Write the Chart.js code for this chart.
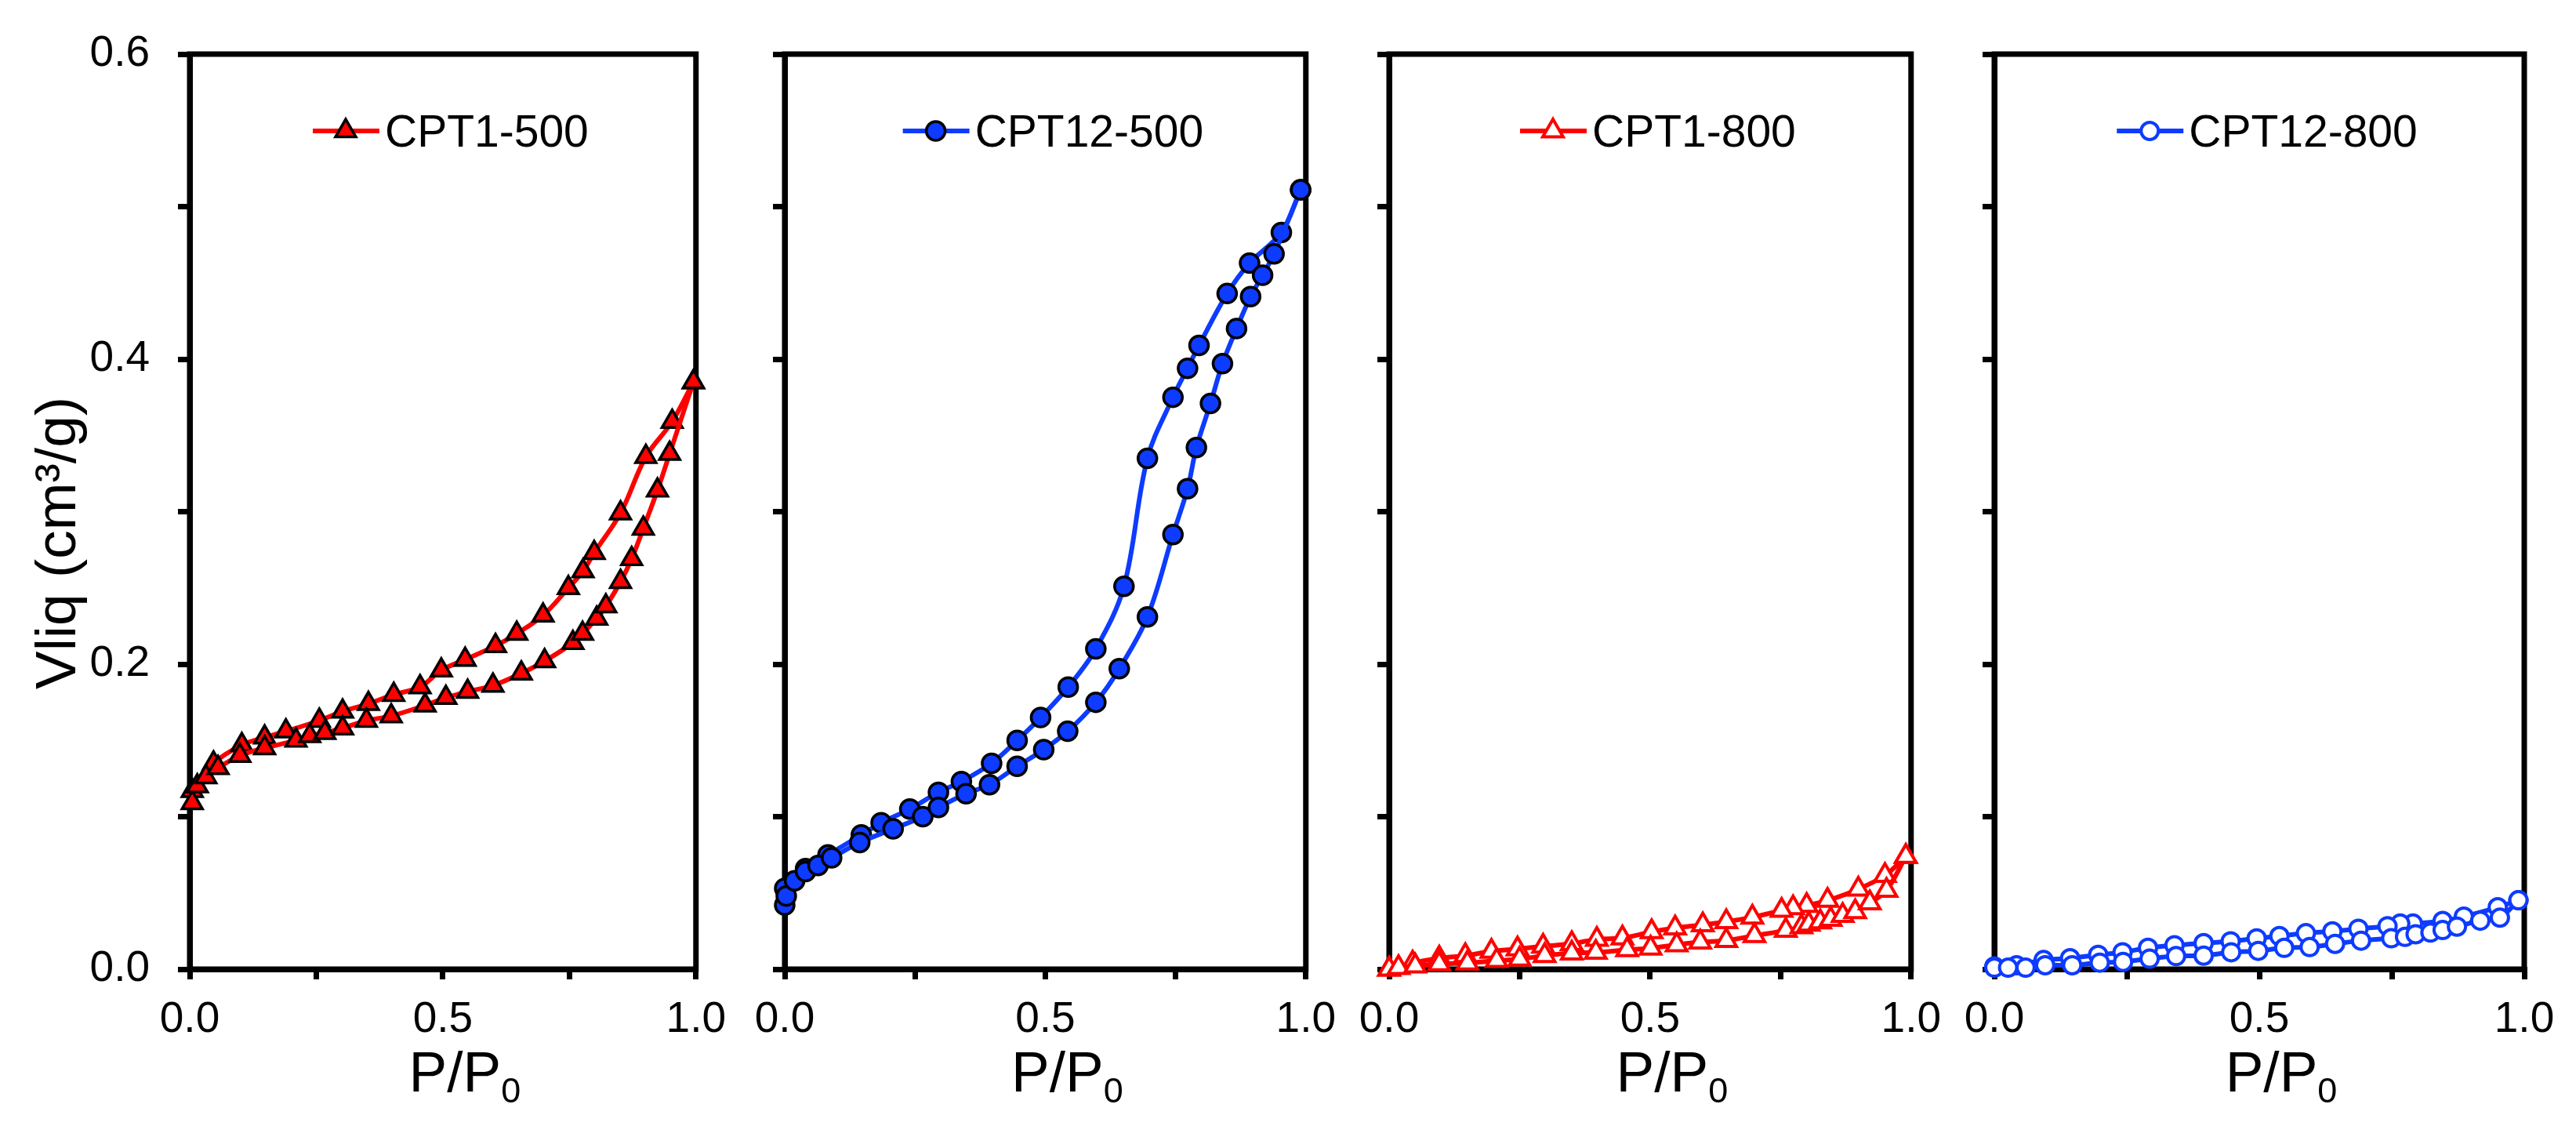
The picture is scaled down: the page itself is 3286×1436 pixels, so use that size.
<!DOCTYPE html>
<html>
<head>
<meta charset="utf-8">
<script src="https://cdn.jsdelivr.net/npm/chart.js@4.4.0/dist/chart.umd.min.js"></script>
<style>
body { margin: 0; background: #fff; width: 3286px; height: 1436px; position: relative; overflow: hidden; }
canvas { position: absolute; top: 0; }
</style>
</head>
<body>
<canvas id="c1" width="945" height="1436" style="left:0px"></canvas>
<canvas id="c2" width="782" height="1436" style="left:941px"></canvas>
<canvas id="c3" width="783" height="1436" style="left:1712px"></canvas>
<canvas id="c4" width="802" height="1436" style="left:2484px"></canvas>
<script>
// CPT1-500
var cpt1_500_adsP = [0.005, 0.015, 0.032, 0.056, 0.099, 0.148, 0.210, 0.237, 0.267, 0.302, 0.349, 0.398, 0.465, 0.506, 0.549, 0.599, 0.655, 0.701, 0.757, 0.776, 0.804, 0.822, 0.851, 0.873, 0.896, 0.924, 0.948, 0.995];
var cpt1_500_adsV = [0.109, 0.120, 0.126, 0.132, 0.140, 0.145, 0.150, 0.153, 0.155, 0.158, 0.163, 0.166, 0.173, 0.178, 0.182, 0.186, 0.194, 0.202, 0.214, 0.220, 0.230, 0.238, 0.254, 0.269, 0.289, 0.314, 0.338, 0.385];
var cpt1_500_desP = [0.995, 0.953, 0.901, 0.851, 0.799, 0.777, 0.748, 0.698, 0.646, 0.604, 0.544, 0.497, 0.455, 0.403, 0.353, 0.302, 0.256, 0.190, 0.148, 0.103, 0.047, 0.005];
var cpt1_500_desV = [0.385, 0.359, 0.336, 0.299, 0.273, 0.261, 0.250, 0.232, 0.220, 0.212, 0.203, 0.196, 0.185, 0.180, 0.174, 0.169, 0.163, 0.156, 0.152, 0.147, 0.135, 0.117];

// CPT12-500
var cpt12_500_adsP = [0.0, 0.003, 0.019, 0.040, 0.064, 0.090, 0.144, 0.208, 0.265, 0.295, 0.348, 0.393, 0.446, 0.497, 0.543, 0.597, 0.642, 0.696, 0.745, 0.773, 0.790, 0.817, 0.840, 0.867, 0.894, 0.917, 0.939, 0.990];
var cpt12_500_adsV = [0.042, 0.048, 0.058, 0.064, 0.068, 0.073, 0.083, 0.092, 0.100, 0.106, 0.115, 0.121, 0.133, 0.144, 0.156, 0.175, 0.197, 0.231, 0.285, 0.315, 0.342, 0.371, 0.397, 0.420, 0.441, 0.455, 0.469, 0.511];
var cpt12_500_desP = [0.990, 0.953, 0.892, 0.849, 0.795, 0.773, 0.745, 0.696, 0.651, 0.597, 0.544, 0.491, 0.446, 0.397, 0.339, 0.295, 0.240, 0.185, 0.147, 0.083, 0.040, 0.0];
var cpt12_500_desV = [0.511, 0.483, 0.463, 0.443, 0.409, 0.394, 0.375, 0.335, 0.251, 0.210, 0.185, 0.165, 0.150, 0.135, 0.123, 0.116, 0.105, 0.096, 0.088, 0.075, 0.066, 0.053];

// CPT1-800
var cpt1_800_adsP = [0.0, 0.018, 0.050, 0.096, 0.150, 0.206, 0.250, 0.298, 0.350, 0.396, 0.456, 0.501, 0.551, 0.596, 0.646, 0.700, 0.760, 0.790, 0.804, 0.826, 0.846, 0.869, 0.893, 0.921, 0.953, 0.990];
var cpt1_800_adsV = [0.0, 0.001, 0.002, 0.0035, 0.004, 0.0056, 0.0065, 0.0089, 0.0106, 0.011, 0.0127, 0.0138, 0.016, 0.0177, 0.0188, 0.022, 0.0254, 0.0278, 0.0294, 0.031, 0.0327, 0.0352, 0.0377, 0.0434, 0.0517, 0.0739];
var cpt1_800_desP = [0.990, 0.950, 0.899, 0.840, 0.800, 0.774, 0.752, 0.696, 0.646, 0.601, 0.548, 0.503, 0.447, 0.398, 0.350, 0.295, 0.246, 0.196, 0.146, 0.096, 0.045, 0.0];
var cpt1_800_desV = [0.0739, 0.0615, 0.0525, 0.0451, 0.0418, 0.0402, 0.0385, 0.0341, 0.0311, 0.0291, 0.027, 0.0245, 0.0204, 0.0196, 0.0167, 0.015, 0.0133, 0.0117, 0.0089, 0.0072, 0.004, 0.0];

// CPT12-800
var cpt12_800_adsP = [0.0, 0.026, 0.059, 0.096, 0.147, 0.199, 0.243, 0.293, 0.343, 0.395, 0.447, 0.498, 0.547, 0.595, 0.643, 0.692, 0.749, 0.775, 0.795, 0.823, 0.846, 0.873, 0.917, 0.954, 0.989];
var cpt12_800_adsV = [0.001, 0.001, 0.001, 0.0026, 0.0026, 0.0043, 0.0048, 0.0069, 0.0086, 0.0089, 0.0111, 0.012, 0.014, 0.0145, 0.0166, 0.0187, 0.0203, 0.0212, 0.0229, 0.024, 0.0257, 0.0279, 0.0318, 0.0338, 0.0452];
var cpt12_800_desP = [0.989, 0.950, 0.886, 0.846, 0.790, 0.766, 0.742, 0.687, 0.638, 0.588, 0.538, 0.495, 0.446, 0.395, 0.340, 0.290, 0.242, 0.196, 0.143, 0.093, 0.042, 0.0];
var cpt12_800_desV = [0.0452, 0.0406, 0.0345, 0.0316, 0.0299, 0.0299, 0.0282, 0.0265, 0.0248, 0.0236, 0.0217, 0.0202, 0.0183, 0.0171, 0.0157, 0.014, 0.0111, 0.0094, 0.0072, 0.006, 0.0026, 0.0018];

var xTickLabels = ['0.0', '0.5', '1.0'];
var yTickLabels = ['0.0', '0.2', '0.4', '0.6'];
var xTitle = 'P/P';
var xTitleSub = '0';
var yTitle = 'Vliq (cm\u00B3/g)';

var RED = '#ff0000';
var BLUE = '#0d3bff';
var FONT = "'Liberation Sans', Arial, sans-serif";

Chart.defaults.font.family = FONT;
Chart.defaults.color = '#000';

function toPoints(xs, ys) {
    var pts = [];
    for (var i = 0; i < xs.length; i++) pts.push({x: xs[i], y: ys[i]});
    return pts;
}

// box frame, legend inside the plot, axis titles with sub/superscripts
var panelDeco = {
    id: 'panelDeco',
    beforeDatasetsDraw: function(chart) {
        var a = chart.chartArea, ctx = chart.ctx;
        ctx.save();
        ctx.strokeStyle = '#000';
        ctx.lineWidth = 7;
        ctx.strokeRect(a.left, a.top, a.right - a.left, a.bottom - a.top);
        ctx.restore();
    },
    afterDraw: function(chart, args, opts) {
        var a = chart.chartArea, ctx = chart.ctx;
        var ds = chart.data.datasets[0];
        var cx = (a.left + a.right) / 2;

        // legend
        ctx.save();
        ctx.font = '57px ' + FONT;
        var tw = ctx.measureText(opts.label).width;
        var x0 = cx + 10 - (92 + tw) / 2;
        var ly = a.top + 98;
        ctx.strokeStyle = ds.borderColor;
        ctx.lineWidth = ds.borderWidth;
        ctx.beginPath();
        ctx.moveTo(x0, ly);
        ctx.lineTo(x0 + 85, ly);
        ctx.stroke();
        ctx.fillStyle = ds.pointBackgroundColor;
        ctx.strokeStyle = ds.pointBorderColor;
        ctx.lineWidth = ds.pointBorderWidth;
        Chart.helpers.drawPoint(ctx, {pointStyle: ds.pointStyle, radius: ds.pointRadius, borderWidth: ds.pointBorderWidth, rotation: 0}, x0 + 42, ly);
        ctx.fillStyle = '#000';
        ctx.textBaseline = 'alphabetic';
        ctx.textAlign = 'left';
        ctx.fillText(opts.label, x0 + 92, ly + 20);

        // x title P/P0
        ctx.font = '73px ' + FONT;
        var w1 = ctx.measureText(xTitle).width;
        ctx.font = '45px ' + FONT;
        var w2 = ctx.measureText(xTitleSub).width;
        var tx = cx + 28 - (w1 + w2) / 2;
        ctx.font = '73px ' + FONT;
        ctx.fillText(xTitle, tx, a.bottom + 156);
        ctx.font = '45px ' + FONT;
        ctx.fillText(xTitleSub, tx + w1, a.bottom + 170);

        // y title on the first panel only
        if (opts.yTitle) {
            ctx.translate(a.left - 146, (a.top + a.bottom) / 2 + 40);
            ctx.rotate(-Math.PI / 2);
            ctx.font = '73px ' + FONT;
            ctx.textAlign = 'center';
            ctx.fillText(yTitle, 0, 0);
        }
        ctx.restore();
    }
};

function makePanel(id, label, adsP, adsV, desP, desV, color, fill, style, radius, bw, yLabels, leftW) {
    var common = {
        borderColor: color,
        borderWidth: 6,
        pointStyle: style,
        pointRadius: radius,
        pointHoverRadius: radius,
        pointBackgroundColor: fill,
        pointBorderColor: fill === '#ffffff' ? color : '#000000',
        pointBorderWidth: bw,
        showLine: true,
        tension: 0.35,
        clip: false
    };
    return new Chart(document.getElementById(id), {
        type: 'scatter',
        data: {
            datasets: [
                Object.assign({label: label, data: toPoints(adsP, adsV)}, common),
                Object.assign({label: label + ' des', data: toPoints(desP, desV)}, common)
            ]
        },
        options: {
            responsive: false,
            animation: false,
            devicePixelRatio: 1,
            layout: {padding: {top: 44, right: document.getElementById(id).width - leftW - (id === 'c1' ? 656 : 676), bottom: 0, left: 0}},
            plugins: {
                legend: {display: false},
                tooltip: {enabled: false},
                panelDeco: {label: label, yTitle: yLabels}
            },
            scales: {
                x: {
                    type: 'linear',
                    min: 0,
                    max: 1,
                    afterFit: function(s) { s.height = 200; },
                    border: {display: true, width: 7, color: '#000'},
                    grid: {drawOnChartArea: false, drawTicks: true, tickLength: 13, lineWidth: 7, tickWidth: 7, tickColor: '#000', color: '#000'},
                    ticks: {
                        stepSize: 0.25,
                        padding: 19,
                        maxRotation: 0,
                        autoSkip: false,
                        font: {size: 55},
                        callback: function(v) {
                            var k = Math.round(v * 4);
                            return k % 2 === 0 ? xTickLabels[k / 2] : '';
                        }
                    }
                },
                y: {
                    type: 'linear',
                    min: 0,
                    max: 0.6,
                    afterFit: function(s) { s.width = leftW; },
                    border: {display: true, width: 7, color: '#000'},
                    grid: {drawOnChartArea: false, drawTicks: true, tickLength: 15, lineWidth: 7, tickWidth: 7, tickColor: '#000', color: '#000'},
                    ticks: {
                        stepSize: 0.1,
                        padding: 36,
                        autoSkip: false,
                        font: {size: 55},
                        callback: function(v) {
                            var k = Math.round(v * 10);
                            return (yLabels && k % 2 === 0) ? yTickLabels[k / 2] : '';
                        }
                    }
                }
            }
        },
        plugins: [panelDeco]
    });
}

makePanel('c1', 'CPT1-500', cpt1_500_adsP, cpt1_500_adsV, cpt1_500_desP, cpt1_500_desV, RED, RED, 'triangle', 15, 3.5, true, 242);
makePanel('c2', 'CPT12-500', cpt12_500_adsP, cpt12_500_adsV, cpt12_500_desP, cpt12_500_desV, BLUE, BLUE, 'circle', 12, 3.5, false, 60);
makePanel('c3', 'CPT1-800', cpt1_800_adsP, cpt1_800_adsV, cpt1_800_desP, cpt1_800_desV, RED, '#ffffff', 'triangle', 15, 4, false, 60);
makePanel('c4', 'CPT12-800', cpt12_800_adsP, cpt12_800_adsV, cpt12_800_desP, cpt12_800_desV, BLUE, '#ffffff', 'circle', 11, 4, false, 60);
</script>
</body>
</html>
